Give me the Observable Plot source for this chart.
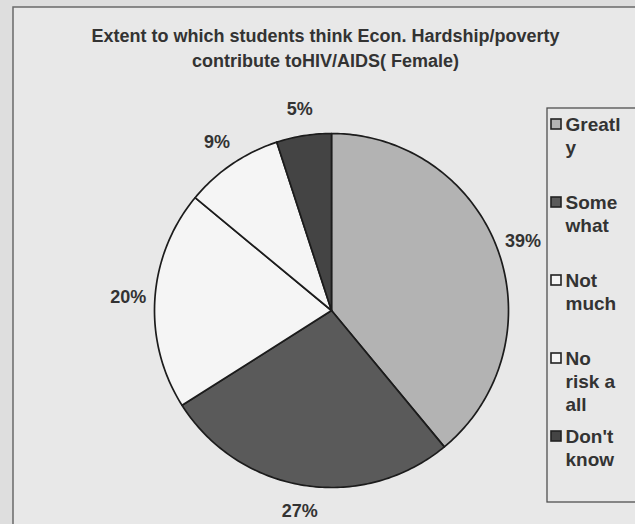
<!DOCTYPE html>
<html><head><meta charset="utf-8">
<script src="https://cdn.jsdelivr.net/npm/d3@7"></script>
<script src="https://cdn.jsdelivr.net/npm/@observablehq/plot@0.6"></script>
<style>
body{margin:0;background:#dedede;overflow:hidden;}
#chart svg{display:block;}
</style>
</head><body><div id="chart"></div>
<script>
const categories = ["Greatly","Somewhat","Not much","No risk a all","Don't know"];
const values = [39,27,20,9,5];
const legendLabels = ["Greatl\ny","Some\nwhat","Not\nmuch","No\nrisk a\nall","Don't\nknow"];
const colors = ["#b3b3b3","#5a5a5a","#f5f5f5","#f5f5f5","#444444"];
const titleLines = ["Extent to which students think Econ. Hardship/poverty","contribute toHIV/AIDS( Female)"];

// layout
const W = 635, H = 524, cx = 331, cy = 310, R = 177, labelR = 1.15;
const font = "'Liberation Sans', Arial, sans-serif";
const ink = "#333333";

const total = d3.sum(values);
let acc = 0;
const slices = categories.map((c, i) => {
  const a0 = acc / total * 2 * Math.PI; acc += values[i];
  const a1 = acc / total * 2 * Math.PI;
  return {c, i, v: values[i], a0, a1, mid: (a0 + a1) / 2, color: colors[i]};
});
const slicePoints = s => {
  const n = Math.max(2, Math.ceil((s.a1 - s.a0) / (Math.PI / 180)));
  const arr = [{x: cx, y: cy}];
  for (let k = 0; k <= n; k++) {
    const a = s.a0 + (s.a1 - s.a0) * k / n;
    arr.push({x: cx + R * Math.sin(a), y: cy - R * Math.cos(a)});
  }
  arr.push({x: cx, y: cy});
  return arr;
};

const legX = 551, legTop = 124, legStep = 78, lineH = 23;
const legendRows = slices.map(s => ({...s, y0: legTop + s.i * legStep}));
const legendLinesData = legendRows.flatMap(r => legendLabels[r.i].split("\n").map((t, k) => ({t, y: r.y0 + k * lineH})));

const marks = [
  Plot.rect([0], {x1: () => 13, x2: () => 660, y1: () => 7, y2: () => 560, fill: "#e8e8e8", stroke: "#6a6a6a", strokeWidth: 1.5}),
  Plot.text(titleLines, {x: () => 325, y: (d, i) => 36 + i * 25, text: d => d, fontSize: 18, fontWeight: "bold", fill: ink, fontFamily: font, letterSpacing: 0.4}),
  ...slices.map(s => Plot.line(slicePoints(s), {x: "x", y: "y", fill: s.color, stroke: "#1c1c1c", strokeWidth: 1.7, strokeLinejoin: "round"})),
  Plot.text(slices, {
    x: s => cx + labelR * R * Math.sin(s.mid),
    y: s => cy - labelR * R * Math.cos(s.mid),
    text: s => s.v + "%", fontSize: 18, fontWeight: "bold", fill: ink, fontFamily: font, letterSpacing: 0.5
  }),
  Plot.rect([0], {x1: () => 547, x2: () => 660, y1: () => 108, y2: () => 502, fill: "none", stroke: "#505050", strokeWidth: 1.3}),
  Plot.rect(legendRows, {x1: () => legX, x2: () => legX + 10, y1: r => r.y0 - 5, y2: r => r.y0 + 5, fill: r => r.color, stroke: "#222", strokeWidth: 1.6}),
  Plot.text(legendLinesData, {x: () => legX + 14, y: "y", text: "t", textAnchor: "start", fontSize: 19, fontWeight: "bold", fill: ink, fontFamily: font, letterSpacing: 0.8})
];

const chart = Plot.plot({
  width: W, height: H,
  marginTop: 0, marginRight: 0, marginBottom: 0, marginLeft: 0,
  x: {type: "linear", domain: [0, W], range: [0, W], axis: null},
  y: {type: "linear", domain: [0, H], range: [0, H], axis: null},
  color: {type: "identity"},
  style: {background: "#dedede", fontFamily: font},
  marks
});
document.getElementById("chart").append(chart);
</script>
</body></html>
